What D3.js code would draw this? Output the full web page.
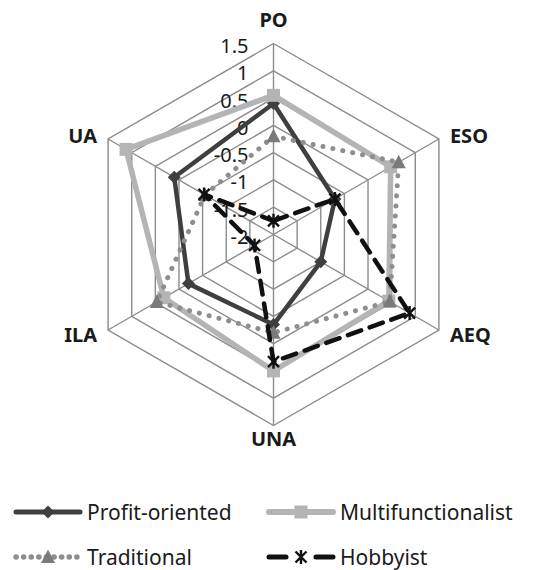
<!DOCTYPE html>
<html>
<head>
<meta charset="utf-8">
<script src="https://cdn.jsdelivr.net/npm/d3@7"></script>
<style>
  body { margin: 0; background: #fff; }
  svg text { font-family: "Noto Sans", sans-serif; fill: #1a1a1a; }
</style>
</head>
<body>
<svg id="chart"></svg>
<script>
const axes = ["PO", "ESO", "AEQ", "UNA", "ILA", "UA"];
const ticks = [-2, -1.5, -1, -0.5, 0, 0.5, 1, 1.5];
const tickLabels = ["-2", "-1.5", "-1", "-0.5", "0", "0.5", "1", "1.5"];

const profitOriented = [0.4, -0.7, -1.0, -0.35, -0.2, 0.1];
const multifunctionalist = [0.55, 0.48, 0.44, 0.5, 0.32, 1.12];
const traditional = [-0.2, 0.65, 0.46, -0.2, 0.47, -0.55];
const hobbyist = [-1.75, -0.7, 0.88, 0.33, -1.6, -0.53];

const seriesNames = ["Profit-oriented", "Multifunctionalist", "Traditional", "Hobbyist"];

const width = 548, height = 570;
const cx = 273.5, cy = 234.5, R = 191;

const svg = d3.select("#chart").attr("width", width).attr("height", height);

const r = d3.scaleLinear().domain([-2, 1.5]).range([0, R]);
const angle = d3.scalePoint().domain(axes).range([0, 2 * Math.PI * 5 / 6]);

const pos = (ax, v) => {
  const a = angle(ax) - Math.PI / 2;
  return [cx + r(v) * Math.cos(a), cy + r(v) * Math.sin(a)];
};

const g = svg.append("g");

// grid rings
g.selectAll("polygon.ring").data(ticks).enter().append("polygon")
  .attr("class", "ring")
  .attr("points", t => axes.map(ax => pos(ax, t).join(",")).join(" "))
  .attr("fill", "none")
  .attr("stroke", "#8c8c8c")
  .attr("stroke-width", 1.4);

// spokes
g.selectAll("line.spoke").data(axes).enter().append("line")
  .attr("class", "spoke")
  .attr("x1", cx).attr("y1", cy)
  .attr("x2", ax => pos(ax, 1.5)[0])
  .attr("y2", ax => pos(ax, 1.5)[1])
  .attr("stroke", "#8c8c8c")
  .attr("stroke-width", 1.4);

// axis labels
const labelPlace = {
  PO: {dx: 0, dy: -24, anchor: "middle"},
  ESO: {dx: 11, dy: -4, anchor: "start"},
  AEQ: {dx: 11, dy: 4, anchor: "start"},
  UNA: {dx: 0, dy: 13, anchor: "middle"},
  ILA: {dx: -11, dy: 4, anchor: "end"},
  UA: {dx: -11, dy: -4, anchor: "end"}
};
g.selectAll("text.axis").data(axes).enter().append("text")
  .attr("class", "axis")
  .attr("x", ax => pos(ax, 1.5)[0] + labelPlace[ax].dx)
  .attr("y", ax => pos(ax, 1.5)[1] + labelPlace[ax].dy)
  .attr("text-anchor", ax => labelPlace[ax].anchor)
  .attr("dominant-baseline", "central")
  .style("font-weight", "bold")
  .style("font-size", "20px")
  .text(d => d);

// tick labels
g.selectAll("text.tick").data(ticks).enter().append("text")
  .attr("class", "tick")
  .attr("x", cx - 25)
  .attr("y", t => cy - r(t) + 2)
  .attr("text-anchor", "end")
  .attr("dominant-baseline", "central")
  .style("font-size", "20px")
  .text((t, i) => tickLabels[i]);

const styles = [
  {data: profitOriented, color: "#3f3f3f", width: 4.5, dash: null, legDash: null, cap: "butt", marker: "diamond", mcolor: "#3f3f3f"},
  {data: multifunctionalist, color: "#b4b4b4", width: 5.5, dash: null, legDash: null, cap: "butt", marker: "square", mcolor: "#b4b4b4"},
  {data: traditional, color: "#8e8e8e", width: 5, dash: "0.1 10", legDash: "0.1 7.5", cap: "round", marker: "triangle", mcolor: "#7a7a7a"},
  {data: hobbyist, color: "#111", width: 4.5, dash: "14 9", legDash: "17 30 17", cap: "round", marker: "star", mcolor: "#111"}
];

const markerPath = (type) => {
  if (type === "diamond") return "M0,-6.5L6.5,0L0,6.5L-6.5,0Z";
  if (type === "square") return "M-6.5,-6.5H6.5V6.5H-6.5Z";
  if (type === "triangle") return "M0,-7.5L7,6H-7Z";
  return "M-5.5,-5.5L5.5,5.5M-5.5,5.5L5.5,-5.5M0,-7V7";
};

const line = d3.line().curve(d3.curveLinearClosed);

styles.forEach(s => {
  const pts = axes.map((ax, i) => pos(ax, s.data[i]));
  g.append("path")
    .attr("d", line(pts))
    .attr("fill", "none")
    .attr("stroke", s.color)
    .attr("stroke-width", s.width)
    .attr("stroke-linejoin", "round")
    .attr("stroke-linecap", s.cap)
    .attr("stroke-dasharray", s.dash);
  g.selectAll(null).data(pts).enter().append("path")
    .attr("transform", p => `translate(${p[0]},${p[1]})`)
    .attr("d", markerPath(s.marker))
    .attr("fill", s.marker === "star" ? "none" : s.mcolor)
    .attr("stroke", s.marker === "star" ? s.mcolor : "none")
    .attr("stroke-width", 2.4);
});

// legend
const legendPos = [[16, 512], [269, 512], [16, 557], [269, 557]];
const leg = svg.append("g");
styles.forEach((s, i) => {
  const [x, y] = legendPos[i];
  leg.append("line")
    .attr("x1", x).attr("x2", x + 64).attr("y1", y).attr("y2", y)
    .attr("stroke", s.color)
    .attr("stroke-width", s.width + 0.5)
    .attr("stroke-linecap", s.cap === "butt" ? "round" : s.cap)
    .attr("stroke-dasharray", s.legDash);
  leg.append("path")
    .attr("transform", `translate(${x + 32},${y})`)
    .attr("d", markerPath(s.marker))
    .attr("fill", s.marker === "star" ? "none" : s.mcolor)
    .attr("stroke", s.marker === "star" ? s.mcolor : "none")
    .attr("stroke-width", 2.4);
  leg.append("text")
    .attr("x", x + 71).attr("y", y)
    .attr("dominant-baseline", "central")
    .style("font-size", "21px")
    .text(seriesNames[i]);
});
</script>
</body>
</html>
